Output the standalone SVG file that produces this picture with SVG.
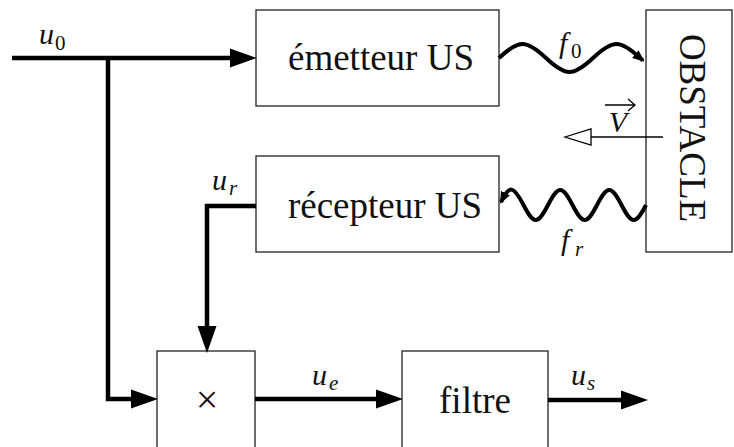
<svg xmlns="http://www.w3.org/2000/svg" width="734" height="447" viewBox="0 0 734 447">
<style>
.box{fill:#fff;stroke:#222;stroke-width:1.3}
text{font-family:'Liberation Serif','Times New Roman','DejaVu Serif',serif;fill:#111}
.lbl{font-size:37px;text-anchor:middle}
.m{font-style:italic;font-size:30px}
.sub{font-size:21px}
.subi{font-style:italic;font-size:21px}
.w{fill:none;stroke:#000;stroke-width:4.5;stroke-linejoin:miter}
.wave{fill:none;stroke:#000;stroke-width:4}
</style>
<defs>
<marker id="ah" markerUnits="userSpaceOnUse" markerWidth="30" markerHeight="22" refX="14" refY="10" orient="auto">
<path d="M0,0.5 L27,10 L0,19.5 Z" fill="#000"/>
</marker>
<marker id="sm" markerUnits="userSpaceOnUse" markerWidth="14" markerHeight="12" refX="10" refY="5" orient="auto">
<path d="M0,0 L12,5 L0,10 Z" fill="#000"/>
</marker>
</defs>

<g id="emetteur">
<rect class="box" x="256" y="10" width="243" height="96"/>
<text class="lbl" x="381" y="70">émetteur US</text>
</g>
<g id="recepteur">
<rect class="box" x="256" y="156" width="243" height="96"/>
<text class="lbl" x="385" y="218">récepteur US</text>
</g>
<g id="obstacle">
<rect class="box" x="646" y="10" width="86" height="242"/>
<text class="lbl" transform="translate(680,128) rotate(90)" x="0" y="0">OBSTACLE</text>
</g>
<g id="multiplieur">
<rect class="box" x="157" y="351" width="98" height="110"/>
<text x="207" y="413" font-size="40" text-anchor="middle">×</text>
</g>
<g id="filtre">
<rect class="box" x="402" y="351" width="146" height="110"/>
<text class="lbl" x="475" y="413">filtre</text>
</g>

<g id="connectors">
<path class="w" d="M12,58 H244" marker-end="url(#ah)"/>
<path class="w" d="M108,58 V399 H145" marker-end="url(#ah)"/>
<path class="w" d="M256,206 H207 V340" marker-end="url(#ah)"/>
<path class="w" d="M255,399 H390" marker-end="url(#ah)"/>
<path class="w" d="M548,400 H635" marker-end="url(#ah)"/>
<path class="wave" d="M499,58 c19.95,-18.7 27.05,-18.7 47,0 c19.95,18.7 27.05,18.7 47,0 c19.95,-18.7 27.05,-18.7 47,0 l3,2.5" marker-end="url(#sm)"/>
<path class="wave" d="M646,205 c-10.4,20 -14.1,20 -24.5,0 c-10.4,-20 -14.1,-20 -24.5,0 c-10.4,20 -14.1,20 -24.5,0 c-10.4,-20 -14.1,-20 -24.5,0 c-10.4,20 -14.1,20 -24.5,0 c-10.4,-20 -14.1,-20 -22.5,-3" marker-end="url(#sm)"/>
<line x1="663" y1="137" x2="591" y2="137" stroke="#000" stroke-width="1.3"/>
<polygon points="565,137 591,129 591,145" fill="#fff" stroke="#000" stroke-width="1.3"/>
</g>

<g id="labels">
<text class="m" x="39" y="44">u</text><text class="sub" x="55" y="50">0</text>
<text class="m" x="212" y="190">u</text><text class="subi" x="229" y="195">r</text>
<text class="m" x="312" y="385">u</text><text class="subi" x="329" y="390">e</text>
<text class="m" x="571" y="385">u</text><text class="subi" x="587" y="390">s</text>
<text class="m" x="559" y="53">f</text><text class="sub" x="571" y="58">0</text>
<text class="m" x="561" y="250">f</text><text class="subi" x="575" y="256">r</text>
<text class="m" x="618" y="132" text-anchor="middle">V</text>
<path d="M605,105 H635 M628,99 L635,105 L628,111" fill="none" stroke="#000" stroke-width="1.3"/>
</g>
</svg>
